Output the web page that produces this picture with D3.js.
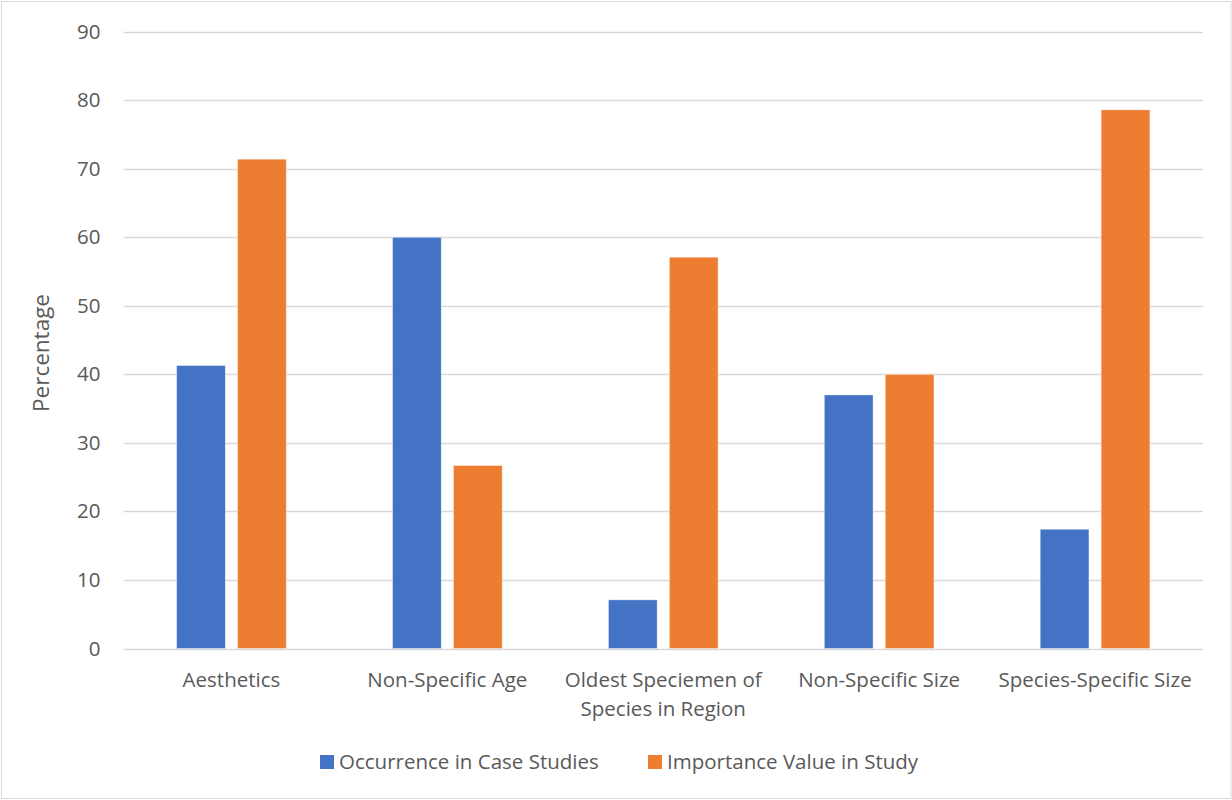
<!DOCTYPE html>
<html>
<head>
<meta charset="utf-8">
<script src="https://cdn.jsdelivr.net/npm/d3@7"></script>
<style>
  html, body { margin: 0; padding: 0; background: #ffffff; }
  svg text { font-family: "Open Sans", "Noto Sans", sans-serif; fill: #595959; }
</style>
</head>
<body>
<svg id="chart" width="1232" height="800"></svg>
<script>
// Categories and series values (percent)
const categories = [
  ["Aesthetics"],
  ["Non-Specific Age"],
  ["Oldest Speciemen of", "Species in Region"],
  ["Non-Specific Size"],
  ["Species-Specific Size"]
];
const seriesNames = ["Occurrence in Case Studies", "Importance Value in Study"];
const occurrence = [41.3, 60.0, 7.1, 37.0, 17.4];
const importance = [71.4, 26.7, 57.1, 40.0, 78.6];
const yTicks = [0, 10, 20, 30, 40, 50, 60, 70, 80, 90];
const colors = ["#4472c4", "#ed7d31"];

const svg = d3.select("#chart");
const W = 1232, H = 800;

// outer frame
svg.append("rect")
  .attr("x", 1.5).attr("y", 1.5)
  .attr("width", W - 2.5).attr("height", H - 3)
  .attr("fill", "#ffffff").attr("stroke", "#d9d9d9").attr("stroke-width", 1);

const plot = { left: 123.5, right: 1203, top: 31.7, bottom: 648.5 };

const x = d3.scaleBand()
  .domain(d3.range(categories.length))
  .range([plot.left, plot.right])
  .paddingInner(0).paddingOuter(0);

// two bars per category, centred in the band with a small gap between them
const bw = x.bandwidth();
const x1 = d3.scaleBand()
  .domain([0, 1])
  .range([bw * 0.246, bw * 0.754])
  .paddingInner(0.2)
  .paddingOuter(0);

const y = d3.scaleLinear().domain([0, 90]).range([plot.bottom, plot.top]);

// gridlines
svg.append("g")
  .selectAll("line")
  .data(yTicks)
  .join("line")
  .attr("x1", plot.left).attr("x2", plot.right)
  .attr("y1", d => Math.round(y(d)) + 0.5).attr("y2", d => Math.round(y(d)) + 0.5)
  .attr("stroke", "#d9d9d9").attr("stroke-width", 1.5);

// y tick labels
const yAxis = d3.axisLeft(y).tickValues(yTicks).tickSize(0).tickPadding(0);
const gy = svg.append("g")
  .attr("transform", `translate(${plot.left - 23},0)`)
  .call(yAxis);
gy.select(".domain").remove();
gy.selectAll("text")
  .style("font-size", "20.5px")
  .style("font-family", "'Open Sans', sans-serif")
  .attr("fill", "#595959");

// bars
const rows = categories.map((c, i) => ({ i, vals: [occurrence[i], importance[i]] }));
const groups = svg.append("g").selectAll("g")
  .data(rows)
  .join("g")
  .attr("transform", d => `translate(${x(d.i)},0)`);

groups.selectAll("rect")
  .data(d => d.vals.map((v, s) => ({ v, s })))
  .join("rect")
  .attr("x", d => x1(d.s))
  .attr("width", x1.bandwidth())
  .attr("y", d => y(d.v))
  .attr("height", d => y(0) - y(d.v))
  .attr("fill", d => colors[d.s])
  .attr("stroke", "#ffffff").attr("stroke-opacity", 0.5).attr("stroke-width", 0.8);

// category labels
const xl = svg.append("g");
rows.forEach(r => {
  const t = xl.append("text")
    .attr("x", x(r.i) + x.bandwidth() / 2)
    .attr("y", 687)
    .attr("text-anchor", "middle")
    .style("font-size", "20.5px");
  categories[r.i].forEach((line, k) => {
    t.append("tspan")
      .attr("x", x(r.i) + x.bandwidth() / 2)
      .attr("dy", k === 0 ? 0 : 29)
      .text(line);
  });
});

// y axis title
svg.append("text")
  .attr("transform", "translate(49,353) rotate(-90)")
  .attr("text-anchor", "middle")
  .style("font-size", "22.5px")
  .text("Percentage");

// legend
const legendItems = [
  { name: seriesNames[0], color: colors[0], x: 320 },
  { name: seriesNames[1], color: colors[1], x: 648 }
];
const lg = svg.append("g");
legendItems.forEach(it => {
  lg.append("rect")
    .attr("x", it.x).attr("y", 755)
    .attr("width", 14).attr("height", 14)
    .attr("fill", it.color);
  lg.append("text")
    .attr("x", it.x + 19).attr("y", 769)
    .style("font-size", "20.5px")
    .text(it.name);
});
</script>
</body>
</html>
